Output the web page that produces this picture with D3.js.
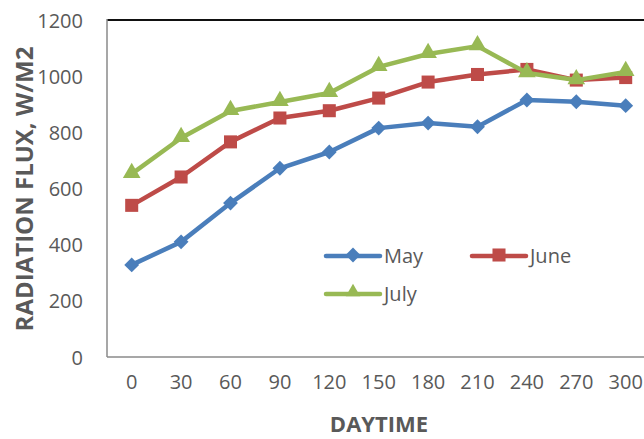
<!DOCTYPE html>
<html>
<head>
<meta charset="utf-8">
<script src="https://cdn.jsdelivr.net/npm/d3@7"></script>
<style>
  html, body { margin: 0; padding: 0; background: #fff; }
  svg { display: block; }
  text { font-family: "Open Sans", "DejaVu Sans", sans-serif; }
</style>
</head>
<body>
<svg id="chart" width="644" height="439"></svg>
<script>
// Minutes of daytime (categories)
const daytime = [0, 30, 60, 90, 120, 150, 180, 210, 240, 270, 300];
// Radiation flux, W/m2, per month
const may  = [328, 410, 548, 672, 730, 815, 833, 820, 915, 909, 895];
const june = [540, 641, 766, 851, 877, 922, 979, 1006, 1024, 986, 995];
const july = [652, 780, 876, 908, 940, 1033, 1079, 1107, 1011, 986, 1015];
const yTicks = [0, 200, 400, 600, 800, 1000, 1200];

const seriesNames = ["May", "June", "July"];
const seriesValues = [may, june, july];
const seriesColors = ["#4A7EBB", "#BE4B48", "#98B954"];
const seriesSymbols = ["diamond", "square", "triangle"];

const svg = d3.select("#chart");
const W = 644, H = 439;
const plot = { left: 107, right: 650.4, top: 20, bottom: 357 };

const x = d3.scaleBand().domain(daytime).range([plot.left, plot.right]).paddingInner(0).paddingOuter(0);
const y = d3.scaleLinear().domain([0, 1200]).range([plot.bottom, plot.top]);
const cx = d => x(d) + x.bandwidth() / 2;

// Plot frame: gray left/bottom axes, dark top edge
svg.append("line").attr("x1", plot.left).attr("x2", W).attr("y1", plot.top).attr("y2", plot.top)
  .attr("stroke", "#111").attr("stroke-width", 2);
svg.append("line").attr("x1", plot.left).attr("x2", plot.left).attr("y1", plot.top - 1).attr("y2", plot.bottom)
  .attr("stroke", "#8a8a8a").attr("stroke-width", 1.5);
svg.append("line").attr("x1", plot.left).attr("x2", W).attr("y1", plot.bottom).attr("y2", plot.bottom)
  .attr("stroke", "#8a8a8a").attr("stroke-width", 1.5);

// Y axis labels
const yAxis = d3.axisLeft(y).tickValues(yTicks).tickFormat(d3.format("d")).tickSize(0).tickPadding(24);
const gy = svg.append("g").attr("transform", `translate(${plot.left},0)`).call(yAxis);
gy.select(".domain").remove();
gy.selectAll("text").attr("fill", "#595959").style("font-size", "20px")
  .style("font-family", "'Open Sans', sans-serif").attr("dy", "0.35em");

// X axis labels
const xAxis = d3.axisBottom(x).tickSize(0).tickPadding(20);
const gx = svg.append("g").attr("transform", `translate(0,${plot.bottom})`).call(xAxis);
gx.select(".domain").remove();
gx.selectAll("text").attr("fill", "#595959").style("font-size", "20px")
  .style("font-family", "'Open Sans', sans-serif").attr("dy", "0.6em");

// Axis titles
svg.append("text").attr("x", 379).attr("y", 432).attr("text-anchor", "middle")
  .attr("fill", "#595959").style("font-size", "22px").style("font-weight", "bold").text("DAYTIME");
svg.append("text").attr("transform", "translate(33,189) rotate(-90)").attr("text-anchor", "middle")
  .attr("fill", "#595959").style("font-size", "24px").style("font-weight", "bold").text("RADIATION FLUX, W/M2");

// Marker shapes
function markerPath(kind, small) {
  if (kind === "diamond") return d3.symbol(d3.symbolSquare, 110)();
  if (kind === "square") return d3.symbol(d3.symbolSquare, 170)();
  return d3.symbol(d3.symbolTriangle, small ? 90 : 135)();
}
function markerTransform(kind, px, py) {
  if (kind === "diamond") return `translate(${px},${py}) rotate(45)`;
  if (kind === "triangle") return `translate(${px},${py - 1})`;
  return `translate(${px},${py})`;
}

const line = d3.line().x((d, i) => cx(daytime[i])).y(d => y(d));

seriesValues.forEach((vals, s) => {
  const g = svg.append("g");
  g.append("path").datum(vals).attr("d", line).attr("fill", "none")
    .attr("stroke", seriesColors[s]).attr("stroke-width", 4.5)
    .attr("stroke-linejoin", "round").attr("stroke-linecap", "round");
  g.selectAll("path.m").data(vals).join("path").attr("class", "m")
    .attr("d", markerPath(seriesSymbols[s]))
    .attr("transform", (d, i) => markerTransform(seriesSymbols[s], cx(daytime[i]), y(d)))
    .attr("fill", seriesColors[s]);
});

// Legend
const legendPos = [
  { lx: 326, ly: 256 },
  { lx: 472, ly: 256 },
  { lx: 326, ly: 294 }
];
seriesNames.forEach((name, s) => {
  const p = legendPos[s];
  const g = svg.append("g");
  g.append("line").attr("x1", p.lx).attr("x2", p.lx + 54).attr("y1", p.ly).attr("y2", p.ly)
    .attr("stroke", seriesColors[s]).attr("stroke-width", 4.5).attr("stroke-linecap", "round");
  g.append("path").attr("d", markerPath(seriesSymbols[s], true))
    .attr("transform", markerTransform(seriesSymbols[s], p.lx + 27, p.ly - 1))
    .attr("fill", seriesColors[s]);
  g.append("text").attr("x", p.lx + 58).attr("y", p.ly).attr("dy", "0.35em")
    .attr("fill", "#595959").style("font-size", "20px").text(name);
});
</script>
</body>
</html>
